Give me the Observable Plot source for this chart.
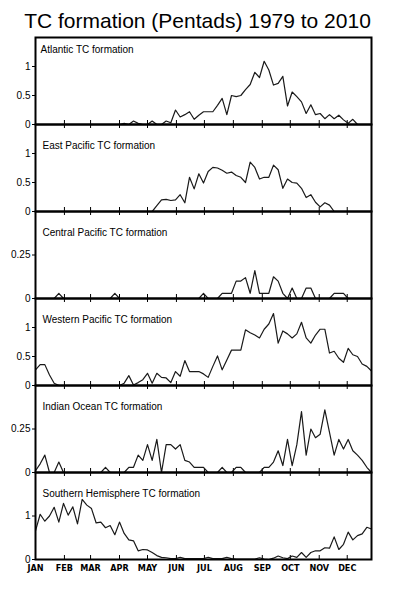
<!DOCTYPE html>
<html><head><meta charset="utf-8">
<script src="https://cdn.jsdelivr.net/npm/d3@7"></script>
<script src="https://cdn.jsdelivr.net/npm/@observablehq/plot@0.6"></script>
<style>
body{margin:0;background:#fff;}
#root{position:relative;width:395px;height:600px;overflow:hidden;}
#title{position:absolute;left:0;top:10px;width:395px;text-align:center;font-family:"Liberation Sans",Arial,sans-serif;font-size:21px;line-height:21px;color:#000;}
.panel{position:absolute;left:0;}
</style></head><body>
<div id="root"><div id="title">TC formation (Pentads) 1979 to 2010</div></div>
<script>
// ---- data (73 pentads per year) ----
const pentads = d3.range(1, 74);
const monthLabels = ["JAN","FEB","MAR","APR","MAY","JUN","JUL","AUG","SEP","OCT","NOV","DEC"];
const monthStartDays = [1,32,60,91,121,152,182,213,244,274,305,335];

const atlantic = [0,0,0,0,0,0,0,0,0,0,0,0,0,0,0,0,0,0,0,
  0.02,0,0.06,0.02,0,0,0.06,0,0,0.06,0.03,0.25,0.13,0.17,0.22,0.09,0.16,0.22,0.22,0.22,0.33,
  0.45,0.17,0.5,0.48,0.5,0.6,0.69,0.9,0.81,1.09,0.94,0.68,0.71,0.83,0.32,0.56,0.48,0.39,0.19,0.34,
  0.17,0.19,0.1,0.17,0.1,0.16,0.08,0.02,0.09,0,0,0,0];
const eastPacific = [0,0,0,0,0,0,0,0,0,0,0,0,0,0,0,0,0,0,0,0,0,0,0,0,0,0,
  0.1,0.2,0.21,0.19,0.2,0.29,0.15,0.59,0.39,0.65,0.49,0.69,0.76,0.75,0.71,0.66,0.68,0.62,0.59,0.5,
  0.85,0.76,0.56,0.59,0.59,0.8,0.72,0.4,0.56,0.5,0.49,0.4,0.24,0.29,0.16,0.08,0.15,0.11,0,
  0,0,0,0,0,0,0,0];
const centralPacific = [0,0,0,0,0,0.03,0,0,0,0,0,0,0,0,0,0,0,0.03,0,0,0,0,0,0,0,0,0,0,0,0,0,0,0,0,0,0,
  0.03,0,0,0,0.03,0.03,0.03,0.1,0.1,0.12,0.03,0.16,0.03,0.03,0.03,0.125,0.1,0.03,0,0.06,0,0,0.06,0.06,
  0,0,0,0,0.03,0.03,0.03,0,0,0,0,0,0];
const westernPacific = [0.27,0.36,0.36,0.18,0.04,0,0,0,0,0,0,0,0,0,0,0,0,0,0,
  0.04,0.17,0.01,0.05,0.1,0.21,0.04,0.21,0.14,0.13,0.05,0.24,0.16,0.43,0.24,0.24,0.24,0.2,0.14,0.33,0.51,
  0.27,0.44,0.61,0.61,0.61,0.96,0.91,0.87,0.82,0.97,1.06,1.24,0.73,0.94,0.89,0.82,0.89,1.09,0.82,0.73,
  0.87,0.97,0.97,0.56,0.59,0.47,0.4,0.64,0.53,0.5,0.37,0.33,0.25];
const indianOcean = [0.01,0.05,0.1,0,0,0.06,0,0,0,0,0,0,0,0,0,0.03,0,0,0,0,
  0.03,0.03,0.1,0.07,0.16,0.07,0.19,0,0.16,0.16,0.135,0.16,0.07,0.06,0.03,0.03,0.03,0,0,0,
  0.03,0,0,0.03,0.03,0,0,0,0,0.03,0.03,0.06,0.125,0.04,0.19,0.04,0.16,0.35,0.1,0.25,
  0.2,0.22,0.36,0.23,0.1,0.19,0.135,0.19,0.125,0.1,0.07,0.03,0];
const southernHemisphere = [0.66,1.04,0.88,1.0,1.2,0.86,1.29,1.02,1.21,0.82,
  1.38,1.25,1.17,0.84,0.86,0.73,0.78,0.57,0.86,0.6,
  0.45,0.43,0.2,0.23,0.22,0.16,0.09,0.05,0.04,0.02,
  0.02,0.05,0.02,0.02,0.02,0.02,0.02,0.05,0.02,0.02,
  0.02,0.05,0.02,0.01,0.01,0.01,0.01,0.01,0.04,0.01,
  0,0.03,0.08,0.04,0.02,0.08,0.05,0.16,0.05,0.16,
  0.2,0.2,0.27,0.26,0.52,0.23,0.35,0.63,0.45,0.55,
  0.59,0.74,0.7];

const panelNames = ["Atlantic TC formation","East Pacific TC formation","Central Pacific TC formation",
  "Western Pacific TC formation","Indian Ocean TC formation","Southern Hemisphere TC formation"];
const panelSeries = [atlantic, eastPacific, centralPacific, westernPacific, indianOcean, southernHemisphere];
const yDomainMax = [1.5, 1.5, 0.5, 1.5, 0.5, 2];
const yTickValues = [[0,0.5,1],[0,0.5,1],[0,0.25],[0,0.5,1],[0,0.25],[0,1]];

// ---- layout ----
const FONT = "'Liberation Sans', Arial, sans-serif";
const panelTop = 37, panelH = 87, W = 395, ML = 35, MR = 24;
const monthPos = monthStartDays.map(d => 1 + (d - 1) / 5);
const root = document.getElementById("root");

panelSeries.forEach((series, i) => {
  const last = i === panelSeries.length - 1;
  const mt = 2, mb = last ? 24 : 2;
  const data = pentads.map((p, j) => ({pentad: p, value: series[j]}));
  const marks = [
    Plot.ruleX(monthPos, {insetTop: panelH - 4, stroke: "#000", strokeWidth: 1})
  ];
  if (i > 0) marks.push(Plot.ruleX(monthPos, {insetBottom: panelH - 4, stroke: "#000", strokeWidth: 1}));
  marks.push(
    Plot.lineY(data, {x: "pentad", y: "value", stroke: "#1a1a1a", strokeWidth: 1.2}),
    Plot.frame({stroke: "#000", strokeWidth: 2}),
    Plot.axisY(yTickValues[i], {tickSize: 3, tickPadding: 2, fontSize: 10, fontFamily: FONT,
      stroke: "#000", strokeWidth: 1, label: null, tickFormat: d => String(d)}),
    Plot.text([panelNames[i]], {frameAnchor: "top-left", dx: i === 0 ? 5 : 7, dy: i === 0 ? 12.5 : 21,
      textAnchor: "start", lineAnchor: "middle", fontSize: 10, fontFamily: FONT, fill: "#000"})
  );
  if (last) marks.push(Plot.axisX(monthPos, {tickSize: 0, tickPadding: 5, fontSize: 9, fontWeight: "bold",
    fontFamily: "'Liberation Sans Narrow','DejaVu Sans Condensed', Arial, sans-serif", label: null,
    tickFormat: d => monthLabels[monthPos.indexOf(d)]}));
  const svg = Plot.plot({
    width: W, height: panelH + mt + mb,
    marginLeft: ML, marginRight: MR, marginTop: mt, marginBottom: mb,
    style: {background: "transparent", overflow: "visible", fontFamily: FONT, color: "#000"},
    x: {domain: [1, 73], axis: null},
    y: {domain: [0, yDomainMax[i]], axis: null},
    marks
  });
  const wrap = document.createElement("div");
  wrap.className = "panel";
  wrap.style.top = (panelTop + i * panelH - mt) + "px";
  wrap.appendChild(svg);
  root.appendChild(wrap);
});
</script>
</body></html>
